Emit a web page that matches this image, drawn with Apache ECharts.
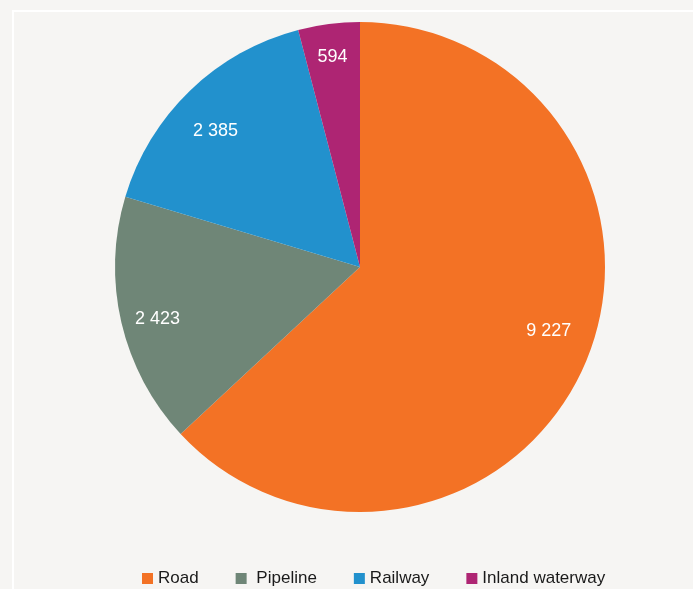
<!DOCTYPE html>
<html>
<head>
<meta charset="utf-8">
<script src="https://cdn.jsdelivr.net/npm/echarts@6/dist/echarts.min.js"></script>
<style>
  html, body { margin: 0; padding: 0; background: #f6f5f3; }
  #chart { width: 693px; height: 589px; }
  .frameTop { position: absolute; left: 12px; top: 10px; right: 0; height: 2px; background: #ffffff; }
  .frameLeft { position: absolute; left: 12px; top: 10px; bottom: 0; width: 2px; background: #ffffff; }
</style>
</head>
<body>
<div class="frameTop"></div>
<div class="frameLeft"></div>
<div id="chart" style="position:absolute;left:0;top:0;"></div>
<script>
const categories = ['Road', 'Pipeline', 'Railway', 'Inland waterway'];
const values = [9227, 2423, 2385, 594];
const valueLabels = ['9 227', '2 423', '2 385', '594'];

const colors = ['#f37225', '#6f8677', '#2291cd', '#ae2573'];
// small nudges so labels sit where the original placed them
const labelNudge = [[-2, -19], [0, 5], [0, 14], [-1, -4]];

const chart = echarts.init(document.getElementById('chart'));

chart.setOption({
  backgroundColor: 'transparent',
  animation: false,
  legend: {
    data: categories,
    top: 565,
    left: 137,
    itemWidth: 11,
    itemHeight: 11,
    itemGap: 37,
    icon: 'rect',
    formatter: name => (name === 'Pipeline' ? ' ' + name : name),
    textStyle: { fontFamily: 'Liberation Sans', fontSize: 17, color: '#1a1a1a' }
  },
  series: [
    {
      type: 'pie',
      center: [360, 267],
      radius: 245,
      startAngle: 90,
      clockwise: true,
      label: { show: false },
      labelLine: { show: false },
      emphasis: { disabled: true },
      data: categories.map((name, i) => ({
        name: name,
        value: values[i],
        itemStyle: { color: colors[i] }
      }))
    },
    {
      // transparent ring used only to place the value labels near the rim
      type: 'pie',
      center: [360, 267],
      radius: [165, 245],
      startAngle: 90,
      clockwise: true,
      silent: true,
      legendHoverLink: false,
      itemStyle: { color: 'rgba(0,0,0,0)' },
      label: {
        show: true,
        position: 'inside',
        color: '#ffffff',
        fontFamily: 'Liberation Sans',
        fontSize: 18,
        formatter: p => valueLabels[p.dataIndex]
      },
      labelLine: { show: false },
      emphasis: { disabled: true },
      data: categories.map((name, i) => ({
        name: name + ' ',
        value: values[i],
        label: { offset: labelNudge[i] }
      }))
    }
  ]
});
</script>
</body>
</html>
